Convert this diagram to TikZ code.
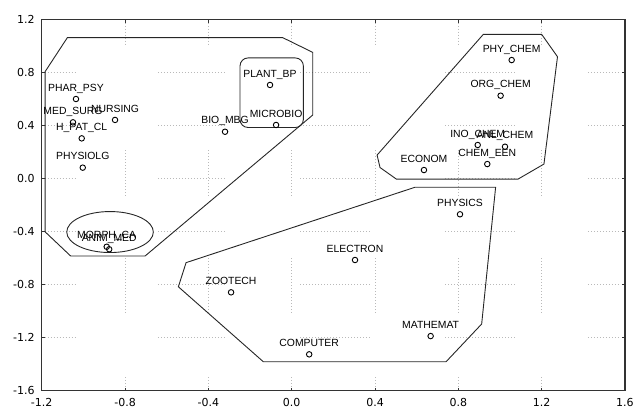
\documentclass[tikz,border=0pt]{standalone}
\usepackage{fontspec}
\setmainfont{Liberation Sans}
\newfontfamily\tickfont{DejaVu Sans}
\usetikzlibrary{positioning}
\tikzset{
	frame/.style={line width=1.1bp,black!80},%
	gridline/.style={gray!55,line width=0.7bp,dash pattern=on 0.8bp off 2.2bp},%
	tick/.style={line width=0.7bp,black!80},%
	ticklabel/.style={font=\tickfont\fontsize{11bp}{13bp}\selectfont,inner sep=0pt},%
	sample/.style={circle,draw,line width=0.9bp,inner sep=0pt,minimum size=5.5bp},%
	samplelabel/.style={font=\fontsize{10.4bp}{12bp}\selectfont,inner sep=0pt,text height=7.5bp,text depth=0pt},%
	cluster/.style={line width=0.9bp,black!85},%
}
\def\xmin{-1.2}
\def\xmax{1.6}
\def\ymin{-1.6}
\def\ymax{1.2}
\begin{document}
\begin{tikzpicture}[%
		x=208.3bp,y=132.5bp,%
		]
		\useasboundingbox (-1.4003,-1.7472) rectangle (1.6433,1.3472);
		\foreach \y in {-1.2,-0.8,-0.4,0,0.4,0.8}
			\foreach \a/\b in {-1.2/-1.04,-0.642/-0.32,0.04/0.376,0.736/1.072,1.422/1.576}
				\draw[gridline] (\a,\y) -- (\b,\y);
		\foreach \x in {-0.8,-0.4,0,0.4,0.8,1.2}
			\foreach \a/\b in {1.2/1.008,0.215/-0.125,-0.6/-1.03,-1.498/-1.6}
				\draw[gridline] (\x,\a) -- (\x,\b);
		\foreach \v [count=\i] in {-1.6,-1.2,-0.8,-0.4,0.0,0.4,0.8,1.2} {
			\draw[tick] (\xmin,\v) -- ++(3bp,0) (\xmax,\v) -- ++(-3bp,0);
			\node[ticklabel,anchor=east,xshift=-7bp] (ytick\i) at (\xmin,\v) {\v};
		}
		\foreach \v [count=\i] in {-1.2,-0.8,-0.4,0.0,0.4,0.8,1.2,1.6} {
			\draw[tick] (\v,\ymin) -- ++(0,3bp) (\v,\ymax) -- ++(0,-3bp);
			\node[ticklabel,anchor=north,yshift=-8bp] (xtick\i) at (\v,\ymin) {\v};
		}
		\draw[frame] (\xmin,\ymin) rectangle (\xmax,\ymax);
		\draw[cluster] (-1.184,0.806) -- (-1.077,1.063) -- (-0.043,1.063) -- (0.101,0.952) -- (0.101,0.479) -- (-0.704,-0.585) -- (-1.061,-0.585) -- (-1.184,-0.402) -- cycle;
		\draw[cluster,rounded corners=8bp] (-0.248,0.385) rectangle (0.056,0.910);
		\draw[cluster] (-0.872,-0.404) ellipse [x radius=43.3bp,y radius=20.5bp];
		\draw[cluster] (0.920,1.088) -- (1.200,1.088) -- (1.276,0.919) -- (1.211,0.109) -- (1.086,-0.005) -- (0.503,-0.005) -- (0.424,0.083) -- (0.410,0.177) -- cycle;
		\draw[cluster] (0.592,-0.066) -- (0.979,-0.066) -- (0.912,-1.098) -- (0.741,-1.383) -- (-0.136,-1.383) -- (-0.544,-0.817) -- (-0.507,-0.635) -- cycle;
		\foreach \n/\px/\py/\t in {pharpsy/-1.0355/0.600/PHAR\_PSY,medsurg/-1.050/0.424/MED\_SURG,nursing/-0.848/0.442/NURSING,hpatcl/-1.008/0.303/H\_PAT\_CL,physiolg/-1.003/0.082/PHYSIOLG,biombg/-0.320/0.353/BIO\_MBG,plantbp/-0.104/0.706/PLANT\_BP,microbio/-0.075/0.404/MICROBIO,phychem/1.056/0.894/PHY\_CHEM,orgchem/1.003/0.625/ORG\_CHEM,inochem/0.893/0.253/INO\_CHEM,anlchem/1.024/0.240/ANL\_CHEM,chemeen/0.939/0.109/CHEM\_EEN,econom/0.635/0.064/ECONOM,morphca/-0.888/-0.515/MORPH\_CA,animmed/-0.876/-0.534/ANIM\_MED,zootech/-0.291/-0.859/ZOOTECH,computer/0.084/-1.327/COMPUTER,physics/0.808/-0.270/PHYSICS,electron/0.304/-0.615/ELECTRON,mathemat/0.667/-1.189/MATHEMAT} {
			\node[sample] (\n) at (\px,\py) {};
			\node[samplelabel,above=4.5bp of \n] (\n-lbl) {\t};
		}
	\end{tikzpicture}
\end{document}
